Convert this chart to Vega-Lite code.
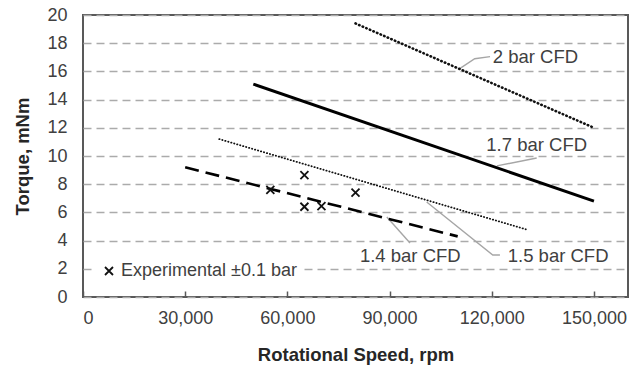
{
  "$schema": "https://vega.github.io/schema/vega-lite/v6.json",
  "width": 545,
  "height": 282,
  "autosize": {"type": "none"},
  "padding": {"left": 83, "top": 15, "right": 11, "bottom": 73},
  "background": "white",
  "config": {
    "font": "Liberation Sans",
    "view": {"stroke": "#595959", "strokeWidth": 2}
  },
  "datasets": {
    "lines": [
      {"series": "2 bar CFD", "speed": 80000, "torque": 19.4},
      {"series": "2 bar CFD", "speed": 150000, "torque": 12.0},
      {"series": "1.7 bar CFD", "speed": 50000, "torque": 15.1},
      {"series": "1.7 bar CFD", "speed": 150000, "torque": 6.8},
      {"series": "1.5 bar CFD", "speed": 40000, "torque": 11.2},
      {"series": "1.5 bar CFD", "speed": 130000, "torque": 4.8},
      {"series": "1.4 bar CFD", "speed": 30000, "torque": 9.2},
      {"series": "1.4 bar CFD", "speed": 110000, "torque": 4.3}
    ],
    "exp": [
      {"series": "Experimental ±0.1 bar", "speed": 55000, "torque": 7.6},
      {"series": "Experimental ±0.1 bar", "speed": 65000, "torque": 8.65},
      {"series": "Experimental ±0.1 bar", "speed": 65000, "torque": 6.4},
      {"series": "Experimental ±0.1 bar", "speed": 70000, "torque": 6.45},
      {"series": "Experimental ±0.1 bar", "speed": 80000, "torque": 7.4}
    ],
    "leaders": [
      {"id": "2", "ord": 1, "speed": 119500, "torque": 17.05},
      {"id": "2", "ord": 2, "speed": 115000, "torque": 16.9},
      {"id": "2", "ord": 3, "speed": 110600, "torque": 16.2},
      {"id": "1.7", "ord": 1, "speed": 133200, "torque": 9.86},
      {"id": "1.7", "ord": 2, "speed": 121500, "torque": 9.3},
      {"id": "1.4", "ord": 1, "speed": 96000, "torque": 3.83},
      {"id": "1.4", "ord": 2, "speed": 89200, "torque": 5.67},
      {"id": "1.5", "ord": 1, "speed": 122400, "torque": 2.98},
      {"id": "1.5", "ord": 2, "speed": 120300, "torque": 2.98},
      {"id": "1.5", "ord": 3, "speed": 100900, "torque": 6.74}
    ],
    "labels": [
      {"text": "2 bar CFD", "speed": 120300, "torque": 17.0},
      {"text": "1.7 bar CFD", "speed": 118400, "torque": 10.8},
      {"text": "1.4 bar CFD", "speed": 81300, "torque": 2.9},
      {"text": "1.5 bar CFD", "speed": 124700, "torque": 2.9}
    ]
  },
  "encoding": {
    "x": {
      "field": "speed", "type": "quantitative",
      "scale": {"domain": [0, 160000], "nice": false},
      "axis": {
        "title": "Rotational Speed, rpm",
        "values": [0, 30000, 60000, 90000, 120000, 150000],
        "format": ",d",
        "grid": false, "domain": false,
        "tickSize": -6, "tickColor": "#595959", "tickWidth": 1.5,
        "labelPadding": 18, "labelFontSize": 18, "labelColor": "#404040",
        "titleFontSize": 18.5, "titleFontWeight": "bold", "titleColor": "#262626",
        "titlePadding": 18
      }
    },
    "y": {
      "field": "torque", "type": "quantitative",
      "scale": {"domain": [0, 20], "nice": false},
      "axis": {
        "title": "Torque, mNm",
        "values": [0, 2, 4, 6, 8, 10, 12, 14, 16, 18, 20],
        "grid": true, "gridDash": [8, 5], "gridColor": "#ababab", "gridWidth": 1.3,
        "domain": false, "ticks": false,
        "labelPadding": 16, "labelFontSize": 18, "labelColor": "#404040",
        "titleFontSize": 18.5, "titleFontWeight": "bold", "titleColor": "#262626",
        "titlePadding": 14
      }
    }
  },
  "layer": [
    {
      "data": {"name": "leaders"},
      "mark": {"type": "line", "color": "#a6a6a6", "strokeWidth": 1.4},
      "encoding": {"detail": {"field": "id"}, "order": {"field": "ord"}}
    },
    {
      "data": {"name": "lines"},
      "transform": [{"filter": "datum.series === '2 bar CFD'"}],
      "mark": {"type": "line", "color": "#111", "strokeWidth": 2.6, "strokeCap": "round", "strokeDash": [0.5, 3.4]}
    },
    {
      "data": {"name": "lines"},
      "transform": [{"filter": "datum.series === '1.7 bar CFD'"}],
      "mark": {"type": "line", "color": "#000", "strokeWidth": 3}
    },
    {
      "data": {"name": "lines"},
      "transform": [{"filter": "datum.series === '1.5 bar CFD'"}],
      "mark": {"type": "line", "color": "#111", "strokeWidth": 1.8, "strokeCap": "round", "strokeDash": [0.3, 2.8]}
    },
    {
      "data": {"name": "lines"},
      "transform": [{"filter": "datum.series === '1.4 bar CFD'"}],
      "mark": {"type": "line", "color": "#000", "strokeWidth": 2.6, "strokeDash": [14, 7]}
    },
    {
      "data": {"name": "exp"},
      "mark": {"type": "point", "filled": false, "stroke": "#111", "strokeWidth": 1.8, "size": 64, "opacity": 1},
      "encoding": {
        "shape": {
          "field": "series", "type": "nominal",
          "scale": {"range": ["M-1,-1L1,1M-1,1L1,-1"]},
          "legend": {
            "title": null, "orient": "none", "legendX": 12, "legendY": 242,
            "fillColor": "white", "padding": 5,
            "symbolStrokeColor": "#111", "symbolStrokeWidth": 1.8, "symbolSize": 64,
            "symbolFillColor": "transparent", "symbolOffset": 0,
            "labelFontSize": 18, "labelColor": "#404040", "labelOffset": 3, "labelLimit": 400
          }
        }
      }
    },
    {
      "data": {"name": "labels"},
      "mark": {"type": "text", "align": "left", "baseline": "middle", "fontSize": 18.5, "color": "#404040"},
      "encoding": {"text": {"field": "text"}}
    }
  ]
}
